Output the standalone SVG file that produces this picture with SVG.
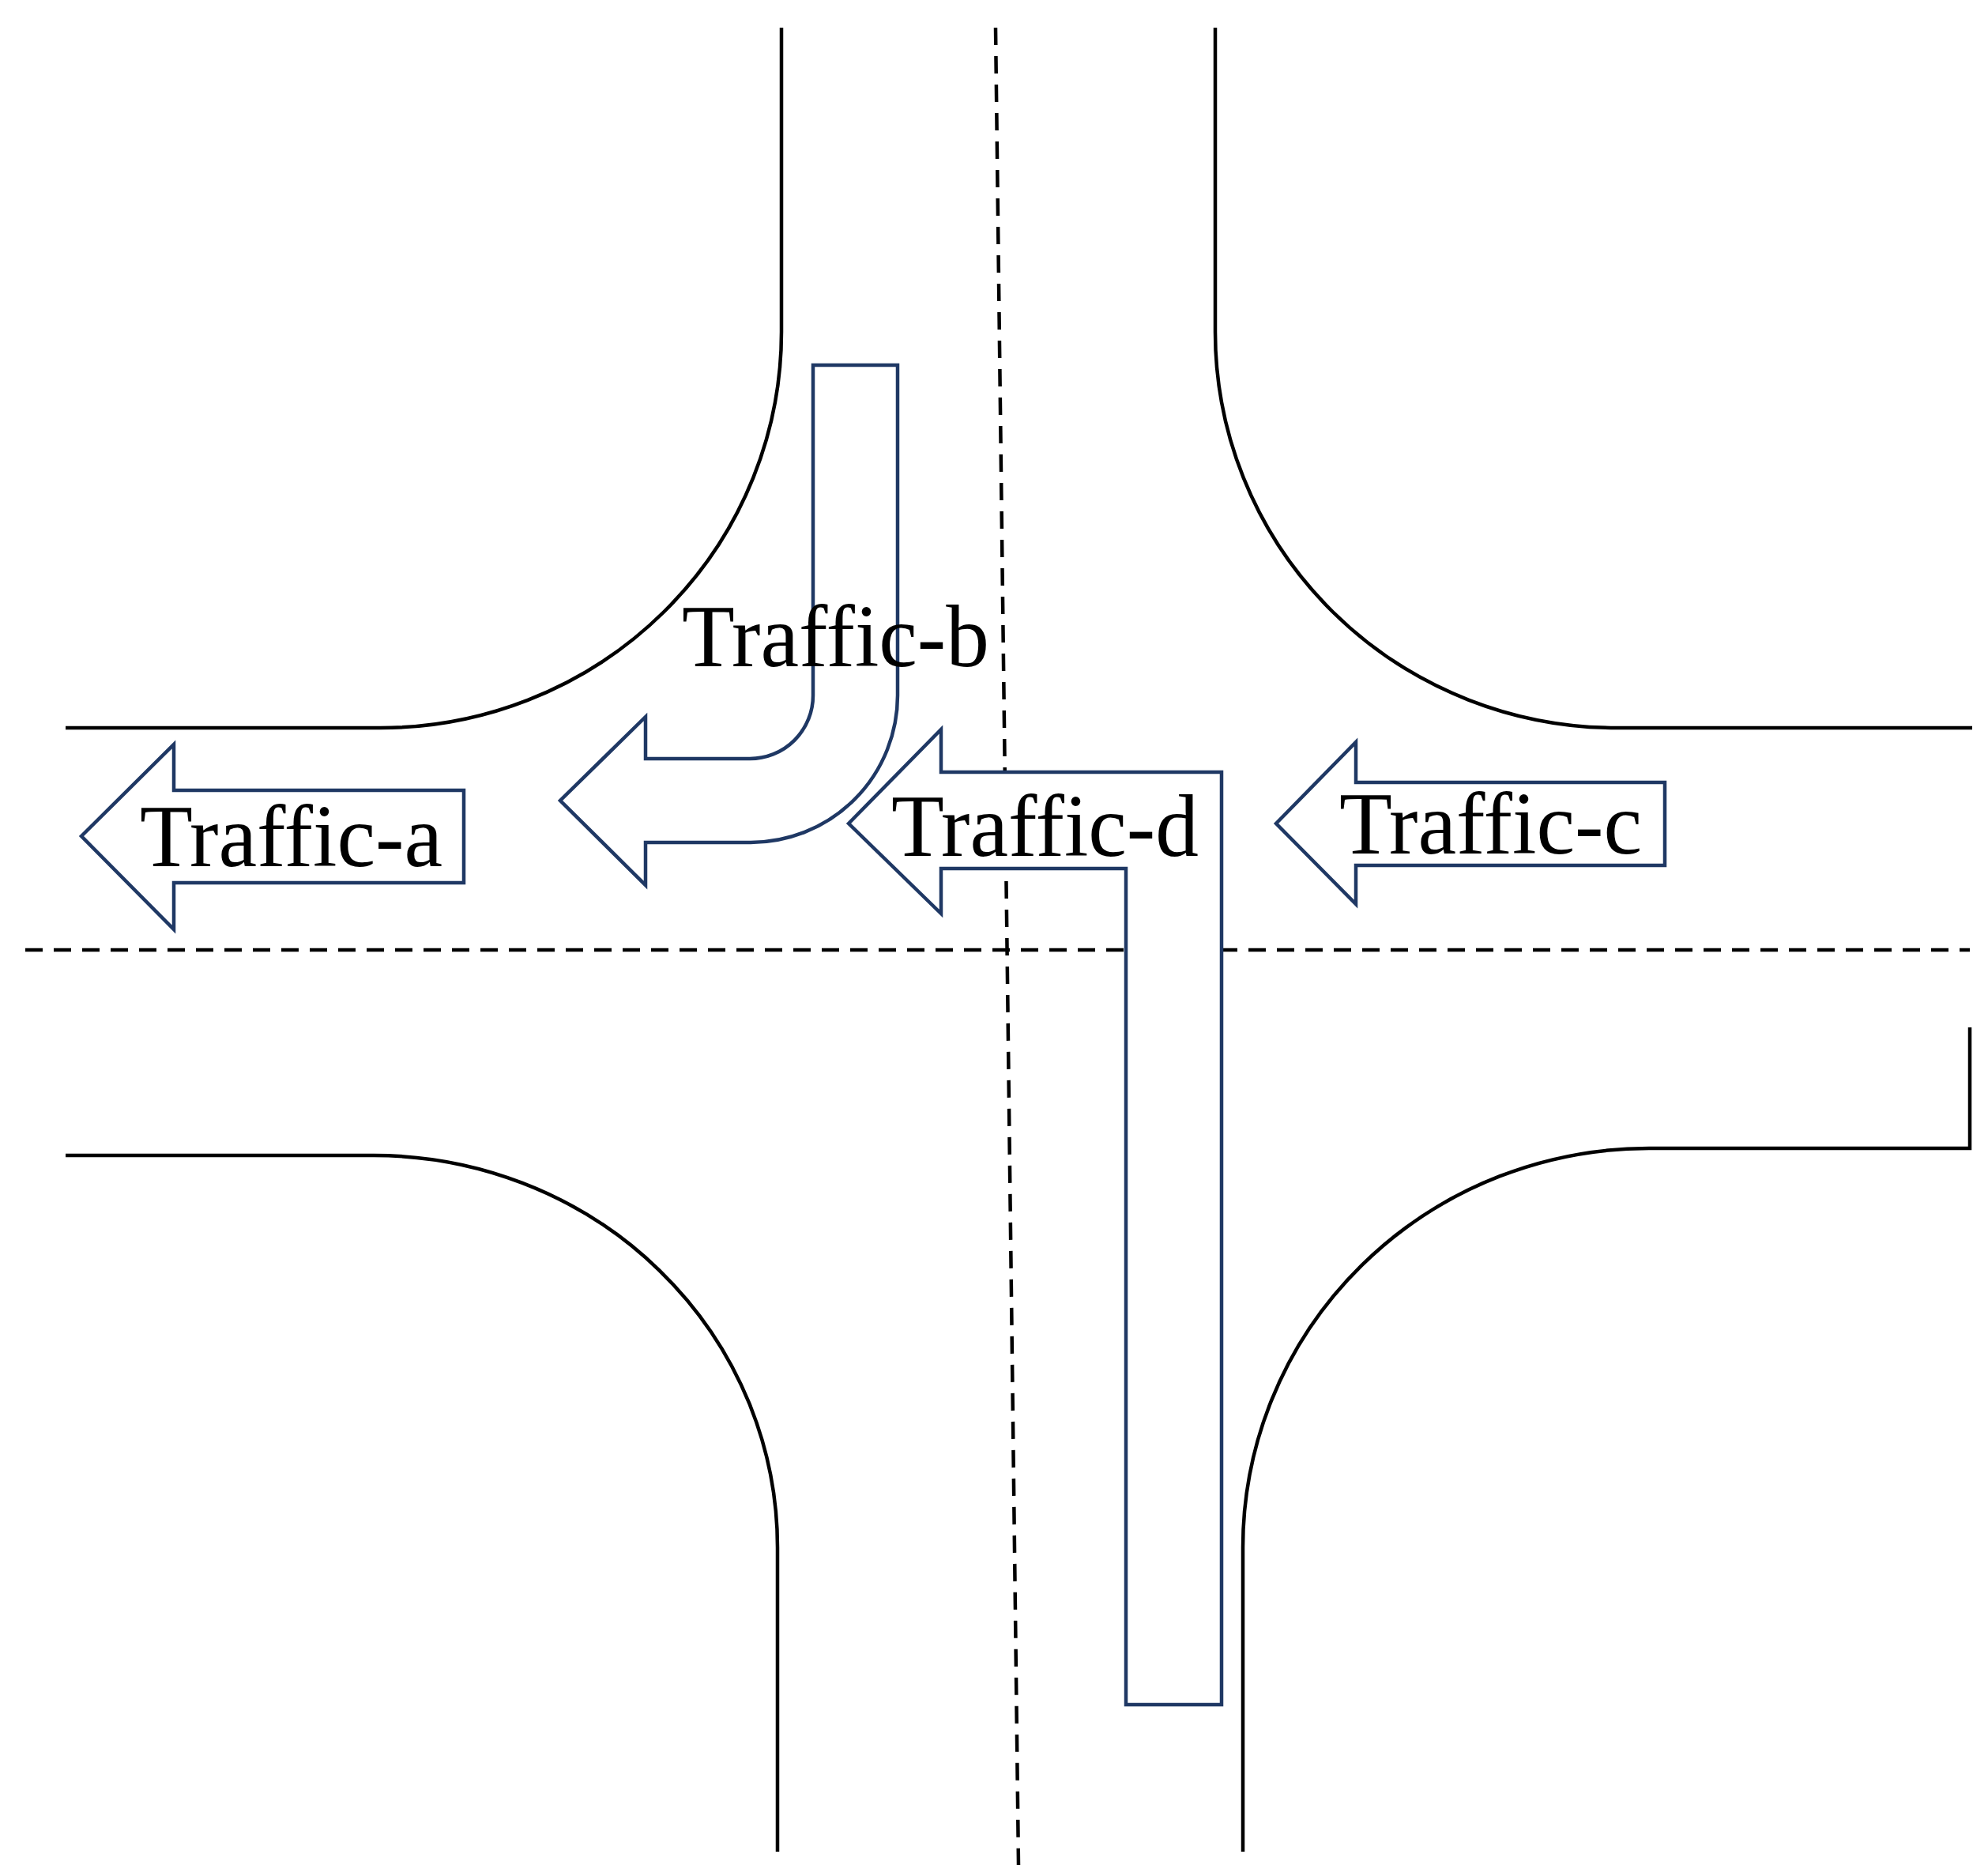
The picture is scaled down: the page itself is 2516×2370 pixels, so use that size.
<svg xmlns="http://www.w3.org/2000/svg" width="2516" height="2370" viewBox="0 0 2516 2370">
<style>
.road{fill:none;stroke:#000;stroke-width:4.5}
.dash{fill:none;stroke:#000;stroke-width:4.5;stroke-dasharray:22 14}
.arr{fill:#fff;stroke:#1F3864;stroke-width:4.5;stroke-linejoin:miter}
.lbl{font-family:"Liberation Serif","Times New Roman",serif;font-size:112px;fill:#000}
</style>
<rect width="2516" height="2370" fill="#fff"/>
<g id="roads">
<path class="road" d="M989 35 V420 A508 501 0 0 1 481 921 H83"/>
<path class="road" d="M1538 35 V420 A508 501 0 0 0 2046 921 H2496"/>
<path class="road" d="M83 1462 H473 A511 496 0 0 1 984 1958 V2343"/>
<path class="road" d="M2493 1300 V1453 H2087 A514 505 0 0 0 1573 1958 V2343"/>
</g>
<g id="centerlines">
<path class="dash" d="M1260 35 L1289 2360"/>
<path class="dash" d="M32 1202 H2493"/>
</g>
<g id="traffic-d">
<path class="arr" d="M1074 1042 L1191 923 V977 H1546 V2157 H1425 V1099 H1191 V1156 Z"/>
<text class="lbl" x="1128" y="1083" textLength="389" lengthAdjust="spacingAndGlyphs">Traffic-d</text>
</g>
<g id="traffic-b">
<path class="arr" d="M1029 462 H1136 V880 A186 186 0 0 1 950 1066 H817 V1120 L709 1013 L817 907 V960 H949 A80 80 0 0 0 1029 880 Z"/>
<text class="lbl" x="863" y="843" textLength="389" lengthAdjust="spacingAndGlyphs">Traffic-b</text>
</g>
<g id="traffic-a">
<path class="arr" d="M103 1058 L220 942 V1000 H587 V1117 H220 V1176 Z"/>
<text class="lbl" x="177" y="1096" textLength="383" lengthAdjust="spacingAndGlyphs">Traffic-a</text>
</g>
<g id="traffic-c">
<path class="arr" d="M1615 1042 L1716 939 V990 H2107 V1095 H1716 V1144 Z"/>
<text class="lbl" x="1695" y="1080" textLength="383" lengthAdjust="spacingAndGlyphs">Traffic-c</text>
</g>
</svg>
